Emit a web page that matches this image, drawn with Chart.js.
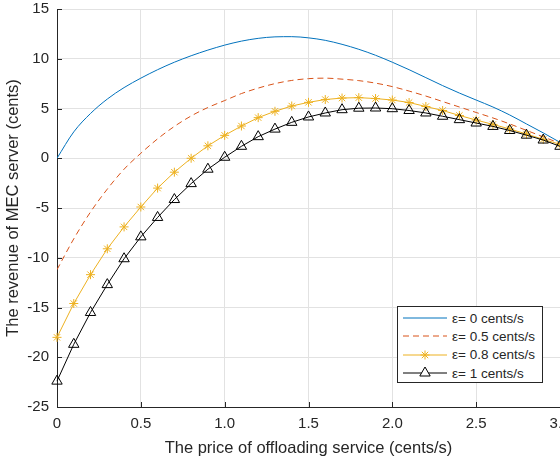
<!DOCTYPE html>
<html>
<head>
<meta charset="utf-8">
<script src="https://cdn.jsdelivr.net/npm/chart.js@4.4.1/dist/chart.umd.min.js"></script>
<style>
  html, body { margin: 0; padding: 0; background: #fff; overflow: hidden; }
  body { width: 560px; height: 461px; position: relative; font-family: "Liberation Sans", Arial, Helvetica, sans-serif; }
  #wrap { position: absolute; left: 0; top: 0; width: 580px; height: 461px; }
  #legend {
    position: absolute; left: 397px; top: 306px; width: 146px; height: 77px;
    box-sizing: border-box; border: 1px solid #262626; background: #fff;
    font-size: 13.5px; color: #262626; padding-top: 2px;
  }
  .row { height: 18.3px; display: flex; align-items: center; white-space: nowrap; }
  .row svg { margin: 0 5px 0 5px; flex: none; }
</style>
</head>
<body>
<div id="wrap"><canvas id="chart"></canvas></div>
<div id="legend"></div>
<script>
// price of offloading service (cents/s), sampled every 0.1
const prices = [0, 0.1, 0.2, 0.3, 0.4, 0.5, 0.6, 0.7, 0.8, 0.9,
                1.0, 1.1, 1.2, 1.3, 1.4, 1.5, 1.6, 1.7, 1.8, 1.9,
                2.0, 2.1, 2.2, 2.3, 2.4, 2.5, 2.6, 2.7, 2.8, 2.9, 3.0];

// revenue of MEC server (cents)
const revEps0  = [0, 2.65, 4.5, 5.95, 7.1, 8.05, 8.9, 9.65, 10.3, 10.87,
                  11.37, 11.77, 12.05, 12.2, 12.22, 12.1, 11.85, 11.45, 10.95, 10.35,
                  9.65, 8.9, 8.1, 7.3, 6.55, 5.85, 5.15, 4.35, 3.45, 2.55, 1.6];
const revEps05 = [-11.2, -8.1, -5.4, -3.1, -1.1, 0.5, 1.95, 3.2, 4.25, 5.1,
                  5.8, 6.5, 7.05, 7.5, 7.82, 8.0, 8.05, 7.95, 7.8, 7.55,
                  7.2, 6.75, 6.25, 5.7, 5.15, 4.6, 4.05, 3.45, 2.8, 2.15, 1.5];
const revEps08 = [-18.0, -14.6, -11.7, -9.1, -6.9, -4.9, -3.0, -1.4, 0.0, 1.25,
                  2.3, 3.24, 4.08, 4.72, 5.25, 5.62, 5.9, 6.05, 6.09, 6.0,
                  5.85, 5.6, 5.2, 4.8, 4.3, 3.84, 3.4, 2.94, 2.44, 1.9, 1.4];
const revEps1  = [-22.4, -18.7, -15.5, -12.7, -10.1, -7.9, -5.95, -4.15, -2.55, -1.1,
                  0.1, 1.2, 2.17, 2.93, 3.61, 4.15, 4.55, 4.88, 5.03, 5.05,
                  4.98, 4.8, 4.55, 4.22, 3.88, 3.54, 3.2, 2.79, 2.32, 1.83, 1.2];

const seriesNames = ['ε= 0 cents/s', 'ε= 0.5 cents/s', 'ε= 0.8 cents/s', 'ε= 1 cents/s'];
const xTicks = [0, 0.5, 1, 1.5, 2, 2.5, 3];
const yTicks = [-25, -20, -15, -10, -5, 0, 5, 10, 15];

const FONT  = '"Liberation Sans", Arial, Helvetica, sans-serif';
const AXIS  = '#262626';
const GRID  = '#e2e2e2';
const BLUE  = '#0072BD';
const RED   = '#D95319';
const YEL   = '#EDB120';
const BLACK = '#000000';

const pts = ys => prices.map((p, i) => ({ x: p, y: ys[i] }));

// MATLAB style ticks pointing into the axes
const innerTicks = {
  id: 'innerTicks',
  afterDatasetsDraw(chart) {
    const { ctx, chartArea: a, scales: { x, y } } = chart;
    ctx.save();
    ctx.strokeStyle = AXIS;
    ctx.lineWidth = 1;
    ctx.beginPath();
    x.ticks.forEach(t => {
      const px = Math.round(x.getPixelForValue(t.value)) + 0.5;
      ctx.moveTo(px, a.bottom); ctx.lineTo(px, a.bottom - 5);
    });
    y.ticks.forEach(t => {
      const py = Math.round(y.getPixelForValue(t.value)) + 0.5;
      ctx.moveTo(a.left, py); ctx.lineTo(a.left + 5, py);
    });
    ctx.stroke();
    ctx.restore();
  }
};

new Chart(document.getElementById('chart'), {
  type: 'line',
  data: {
    datasets: [
      { label: seriesNames[0], data: pts(revEps0), borderColor: BLUE, borderWidth: 1,
        pointRadius: 0, cubicInterpolationMode: 'monotone', order: 4 },
      { label: seriesNames[1], data: pts(revEps05), borderColor: RED, borderWidth: 1,
        borderDash: [6, 4], pointRadius: 0, cubicInterpolationMode: 'monotone', order: 3 },
      { label: seriesNames[2], data: pts(revEps08), borderColor: YEL, borderWidth: 1,
        pointStyle: 'star', pointRadius: 4.5, pointBorderColor: YEL, pointBorderWidth: 1,
        pointBackgroundColor: YEL, order: 2, clip: false },
      { label: seriesNames[3], data: pts(revEps1), borderColor: BLACK, borderWidth: 1,
        pointStyle: 'triangle', pointRadius: 6, pointBorderColor: BLACK, pointBorderWidth: 1,
        pointBackgroundColor: 'rgba(0,0,0,0)', order: 1, clip: false },
    ],
  },
  options: {
    responsive: true,
    maintainAspectRatio: false,
    animation: false,
    events: [],
    layout: { padding: { top: 9, right: 20, left: 0, bottom: 0 } },
    plugins: { legend: { display: false }, tooltip: { enabled: false } },
    scales: {
      x: {
        type: 'linear', min: 0, max: 3,
        afterFit: s => { s.height = 54; },
        afterBuildTicks: s => { s.ticks = xTicks.map(v => ({ value: v })); },
        grid: { color: GRID, drawTicks: false },
        border: { color: AXIS, width: 1 },
        ticks: { color: AXIS, padding: 8, maxRotation: 0, autoSkip: false,
                 font: { family: FONT, size: 15 } },
        title: { display: true, text: 'The price of offloading service (cents/s)', color: AXIS,
                 padding: { top: 0, bottom: 3 }, font: { family: FONT, size: 16.5 } },
      },
      y: {
        type: 'linear', min: -25, max: 15,
        afterFit: s => { s.width = 57; s.paddingTop = 0; s.paddingBottom = 0; },
        afterBuildTicks: s => { s.ticks = yTicks.map(v => ({ value: v })); },
        grid: { color: GRID, drawTicks: false },
        border: { color: AXIS, width: 1 },
        ticks: { color: AXIS, padding: 8, font: { family: FONT, size: 15 } },
        title: { display: true, text: 'The revenue of MEC server (cents)', color: AXIS,
                 padding: { top: 4, bottom: 0 }, font: { family: FONT, size: 16.5 } },
      },
    },
  },
  plugins: [innerTicks],
});

// legend box drawn as html, swatches in svg
const swatches = [
  `<line x1="0" y1="9" x2="44" y2="9" stroke="${BLUE}" stroke-width="1"/>`,
  `<line x1="0" y1="9" x2="44" y2="9" stroke="${RED}" stroke-width="1" stroke-dasharray="6 4"/>`,
  `<line x1="0" y1="9" x2="44" y2="9" stroke="${YEL}" stroke-width="1"/>
   <g stroke="${YEL}" stroke-width="1">
     <line x1="17.5" y1="9" x2="26.5" y2="9"/><line x1="22" y1="4.5" x2="22" y2="13.5"/>
     <line x1="18.8" y1="5.8" x2="25.2" y2="12.2"/><line x1="18.8" y1="12.2" x2="25.2" y2="5.8"/>
   </g>`,
  `<line x1="0" y1="9" x2="44" y2="9" stroke="${BLACK}" stroke-width="1"/>
   <polygon points="22,3 27.2,12 16.8,12" fill="#fff" stroke="${BLACK}" stroke-width="1"/>`,
];
document.getElementById('legend').innerHTML = seriesNames.map((n, i) => `
  <div class="row"><svg width="44" height="18">${swatches[i]}</svg><span>${n}</span></div>
`).join('');
</script>
</body>
</html>
